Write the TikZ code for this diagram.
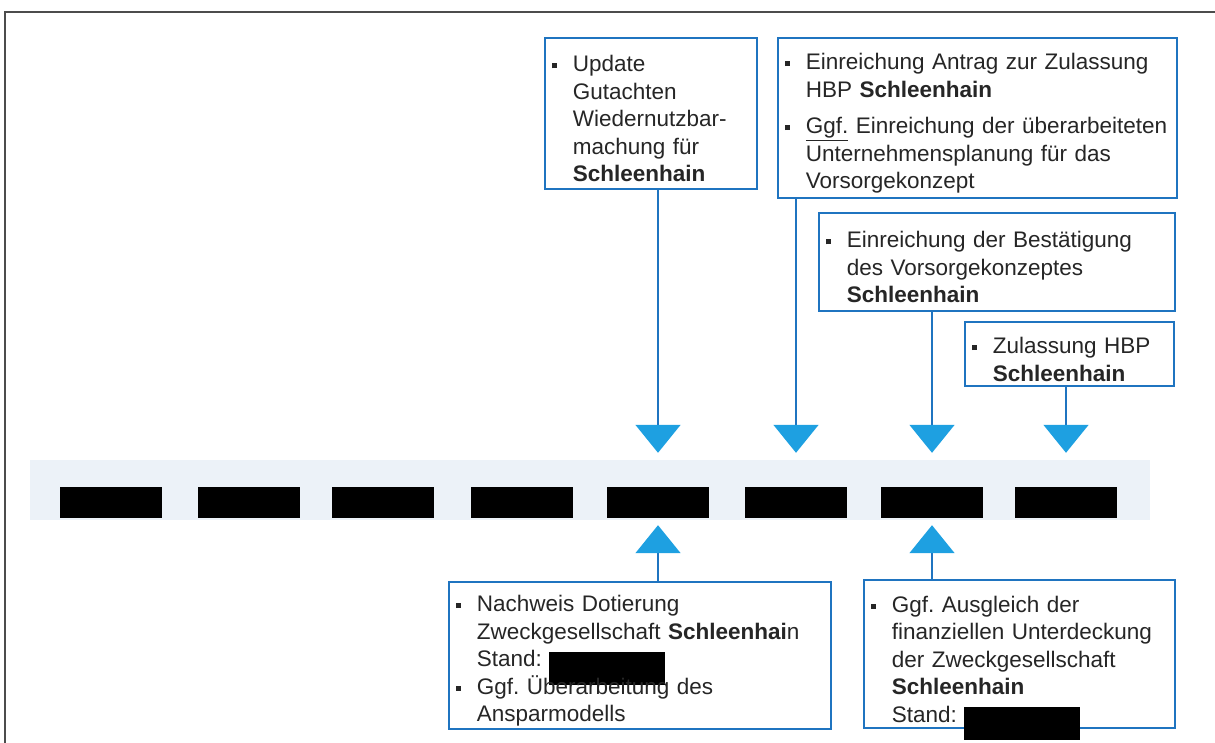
\documentclass[tikz,border=0pt]{standalone}
\usepackage{fontspec}
\setmainfont{Liberation Sans}
\usetikzlibrary{arrows.meta}
\definecolor{boxblue}{RGB}{31,116,192}
\definecolor{triblue}{RGB}{30,160,225}
\definecolor{band}{RGB}{236,242,248}
\newcommand{\itm}{\par\hangindent=21pt\hangafter=1\noindent\makebox[21pt][l]{\rule[3.5pt]{5pt}{5pt}}}
\newcommand{\redact}{\smash{\textcolor{black}{\rule[-18pt]{116pt}{33pt}}}}
\newcommand{\sch}{\textbf{Schleenhain}}

\begin{document}
\begin{tikzpicture}[x=1pt,y=-1pt,
    box/.style={draw=boxblue,line width=1.6pt,fill=white,anchor=north west,align=left,
      inner xsep=7pt,inner ysep=0pt,text=black!85,font=\fontsize{22.5}{27.5}\selectfont\frenchspacing},
    date/.style={fill=black,minimum width=102pt,minimum height=31pt,inner sep=0pt},
    con/.style={draw=boxblue,line width=1.6pt,-{Triangle[width=45pt,length=28pt,color=triblue]}}]
  \useasboundingbox (0,0) rectangle (1215,743);
  \draw[black!70,line width=1.5pt] (5,743) -- (5,12) -- (1215,12);
  \fill[band] (30,460) rectangle (1150,520);
  % timeline, dates blacked out
  \foreach \x [count=\i] in {111,249,383,522,658,796,932,1066}
    \node[date] (d\i) at (\x,502.5) {};
  \node[box,text width=198pt,minimum height=151pt] (upd) at (544,37)
    {\itm Update\newline Gutachten\newline Wiedernutzbar-\newline machung für\newline \sch\par};
  \node[box,text width=385pt,minimum height=160pt] (antr) at (777,37)
    {\itm Einreichung Antrag zur Zulassung\newline HBP \sch\par\vspace{9pt}
     \itm \underline{Ggf.} Einreichung der überarbeiteten\newline Unternehmensplanung für das\newline Vorsorgekonzept\par};
  \node[box,text width=342pt,minimum height=98pt] (best) at (818,212)
    {\itm Einreichung der Bestätigung\newline des Vorsorgekonzeptes\newline \sch\par};
  \node[box,text width=195pt,minimum height=64pt] (zul) at (964,321)
    {\itm Zulassung HBP\newline \sch\par};
  \node[box,text width=368pt,minimum height=147pt] (nach) at (448,581)
    {\itm Nachweis Dotierung\newline Zweckgesellschaft \textbf{Schleenhai}n\newline Stand: \redact
     \itm Ggf. Überarbeitung des\newline Ansparmodells\par};
  \node[box,text width=297pt,minimum height=148pt] (ausg) at (863,579)
    {\itm Ggf. Ausgleich der\newline finanziellen Unterdeckung\newline der Zweckgesellschaft\newline \sch\newline Stand: \redact\par};
  \foreach \b/\d in {upd/5,antr/6,best/7,zul/8}
    \draw[con,shorten >=34pt] (d\d.north |- \b.south) -- (d\d.north);
  \foreach \b/\d in {nach/5,ausg/7}
    \draw[con,shorten >=7pt] (d\d.south |- \b.north) -- (d\d.south);
\end{tikzpicture}
\end{document}
